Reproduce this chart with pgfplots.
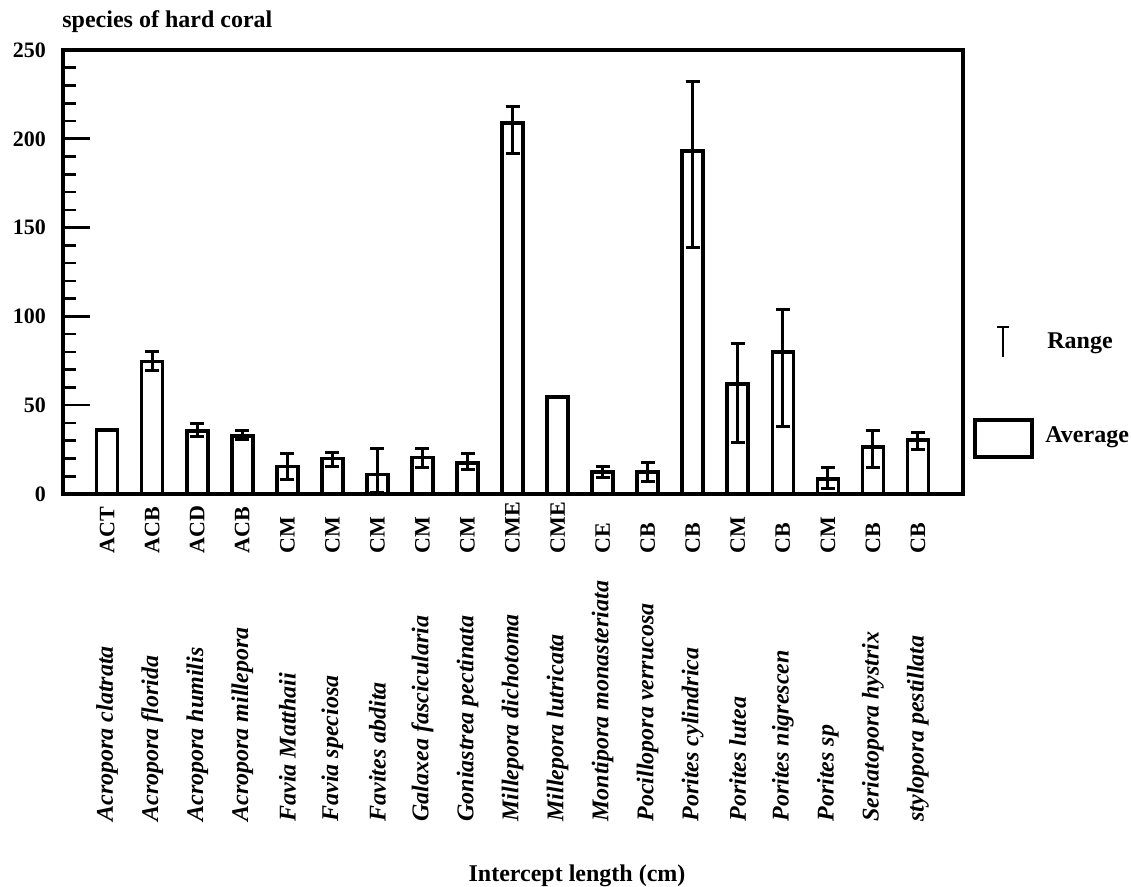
\documentclass[border=0pt]{standalone}
\usepackage{pgfplots}
\pgfplotsset{compat=1.18}
\usepackage{pgfplotstable}
\usepackage{fontspec}
\setmainfont{Liberation Serif}
\newcommand\codefont{\bfseries\fontsize{11}{13}\selectfont}
\newcommand\spfont{\bfseries\itshape\fontsize{12}{14}\selectfont}
\newcommand\lblfont{\bfseries\fontsize{12}{14}\selectfont}

\pgfplotstableread{
x y ep em
1 74.5 5.5 5
2 35.5 4 3
3 32.5 3.5 2
4 15.5 7.5 7.5
5 20 3.5 4.5
6 11 14.5 10
7 20.5 5 5.5
8 17.5 5.5 3.5
9 209 9 17
11 12.5 3 3
12 12.5 5.5 5.5
13 193 39 54
14 62 22.5 33
15 80 24 42
16 8.5 6.5 5.5
17 26.5 9.5 11.5
18 30.5 4 5.5
}\rangedata

\pgfplotstableread{
x y
0 36
10 54.5
}\plaindata

\begin{document}
\begin{tikzpicture}
\useasboundingbox (0pt,0pt) rectangle (565.5pt,443.5pt);
\begin{axis}[
  at={(31.5pt,196.5pt)}, anchor=south west,
  scale only axis, width=450pt, height=222pt,
  xmin=-0.98, xmax=19, ymin=0, ymax=250,
  xtick=\empty,
  ytick={0,50,100,150,200,250},
  minor y tick num=4,
  ytick pos=left,
  tick align=inside,
  major tick length=13.5pt,
  minor tick length=6.5pt,
  every tick/.style={black, line width=1.3pt},
  axis line style={line width=2.2pt},
  /pgf/number format/assume math mode=true,
  yticklabel style={font=\codefont, xshift=-5pt},
  clip=false,
  ybar,
]
\addplot[draw=black, fill=white, line width=1.8pt, bar width=10.5pt, bar shift=0pt,
  error bars/.cd, y dir=both, y explicit,
  error bar style={line width=1.5pt},
  error mark options={rotate=90, mark size=3.5pt, line width=1.5pt}]
  table[x=x, y=y, y error plus=ep, y error minus=em]{\rangedata};
\addplot[draw=black, fill=white, line width=1.8pt, bar width=10.5pt, bar shift=0pt]
  table[x=x, y=y]{\plaindata};

% functional group codes
\path (axis cs:0,0) ++(0pt,-30pt) node[rotate=90,anchor=west,inner sep=0pt,font=\codefont]{ACT};
\path (axis cs:1,0) ++(0pt,-30pt) node[rotate=90,anchor=west,inner sep=0pt,font=\codefont]{ACB};
\path (axis cs:2,0) ++(0pt,-30pt) node[rotate=90,anchor=west,inner sep=0pt,font=\codefont]{ACD};
\path (axis cs:3,0) ++(0pt,-30pt) node[rotate=90,anchor=west,inner sep=0pt,font=\codefont]{ACB};
\path (axis cs:4,0) ++(0pt,-30pt) node[rotate=90,anchor=west,inner sep=0pt,font=\codefont]{CM};
\path (axis cs:5,0) ++(0pt,-30pt) node[rotate=90,anchor=west,inner sep=0pt,font=\codefont]{CM};
\path (axis cs:6,0) ++(0pt,-30pt) node[rotate=90,anchor=west,inner sep=0pt,font=\codefont]{CM};
\path (axis cs:7,0) ++(0pt,-30pt) node[rotate=90,anchor=west,inner sep=0pt,font=\codefont]{CM};
\path (axis cs:8,0) ++(0pt,-30pt) node[rotate=90,anchor=west,inner sep=0pt,font=\codefont]{CM};
\path (axis cs:9,0) ++(0pt,-30pt) node[rotate=90,anchor=west,inner sep=0pt,font=\codefont]{CME};
\path (axis cs:10,0) ++(0pt,-30pt) node[rotate=90,anchor=west,inner sep=0pt,font=\codefont]{CME};
\path (axis cs:11,0) ++(0pt,-30pt) node[rotate=90,anchor=west,inner sep=0pt,font=\codefont]{CE};
\path (axis cs:12,0) ++(0pt,-30pt) node[rotate=90,anchor=west,inner sep=0pt,font=\codefont]{CB};
\path (axis cs:13,0) ++(0pt,-30pt) node[rotate=90,anchor=west,inner sep=0pt,font=\codefont]{CB};
\path (axis cs:14,0) ++(0pt,-30pt) node[rotate=90,anchor=west,inner sep=0pt,font=\codefont]{CM};
\path (axis cs:15,0) ++(0pt,-30pt) node[rotate=90,anchor=west,inner sep=0pt,font=\codefont]{CB};
\path (axis cs:16,0) ++(0pt,-30pt) node[rotate=90,anchor=west,inner sep=0pt,font=\codefont]{CM};
\path (axis cs:17,0) ++(0pt,-30pt) node[rotate=90,anchor=west,inner sep=0pt,font=\codefont]{CB};
\path (axis cs:18,0) ++(0pt,-30pt) node[rotate=90,anchor=west,inner sep=0pt,font=\codefont]{CB};

% species names
\path (axis cs:0,0) ++(0pt,-164pt) node[rotate=90,anchor=west,inner sep=0pt,font=\spfont]{Acropora clatrata};
\path (axis cs:1,0) ++(0pt,-164pt) node[rotate=90,anchor=west,inner sep=0pt,font=\spfont]{Acropora florida};
\path (axis cs:2,0) ++(0pt,-164pt) node[rotate=90,anchor=west,inner sep=0pt,font=\spfont]{Acropora humilis};
\path (axis cs:3,0) ++(0pt,-164pt) node[rotate=90,anchor=west,inner sep=0pt,font=\spfont]{Acropora millepora};
\path (axis cs:4,0) ++(0pt,-164pt) node[rotate=90,anchor=west,inner sep=0pt,font=\spfont]{Favia Matthaii};
\path (axis cs:5,0) ++(0pt,-164pt) node[rotate=90,anchor=west,inner sep=0pt,font=\spfont]{Favia speciosa};
\path (axis cs:6,0) ++(0pt,-164pt) node[rotate=90,anchor=west,inner sep=0pt,font=\spfont]{Favites abdita};
\path (axis cs:7,0) ++(0pt,-164pt) node[rotate=90,anchor=west,inner sep=0pt,font=\spfont]{Galaxea fascicularia};
\path (axis cs:8,0) ++(0pt,-164pt) node[rotate=90,anchor=west,inner sep=0pt,font=\spfont]{Goniastrea pectinata};
\path (axis cs:9,0) ++(0pt,-164pt) node[rotate=90,anchor=west,inner sep=0pt,font=\spfont]{Millepora dichotoma};
\path (axis cs:10,0) ++(0pt,-164pt) node[rotate=90,anchor=west,inner sep=0pt,font=\spfont]{Millepora lutricata};
\path (axis cs:11,0) ++(0pt,-164pt) node[rotate=90,anchor=west,inner sep=0pt,font=\spfont]{Montipora monasteriata};
\path (axis cs:12,0) ++(0pt,-164pt) node[rotate=90,anchor=west,inner sep=0pt,font=\spfont]{Pocillopora verrucosa};
\path (axis cs:13,0) ++(0pt,-164pt) node[rotate=90,anchor=west,inner sep=0pt,font=\spfont]{Porites cylindrica};
\path (axis cs:14,0) ++(0pt,-164pt) node[rotate=90,anchor=west,inner sep=0pt,font=\spfont]{Porites lutea};
\path (axis cs:15,0) ++(0pt,-164pt) node[rotate=90,anchor=west,inner sep=0pt,font=\spfont]{Porites nigrescen};
\path (axis cs:16,0) ++(0pt,-164pt) node[rotate=90,anchor=west,inner sep=0pt,font=\spfont]{Porites sp};
\path (axis cs:17,0) ++(0pt,-164pt) node[rotate=90,anchor=west,inner sep=0pt,font=\spfont]{Seriatopora hystrix};
\path (axis cs:18,0) ++(0pt,-164pt) node[rotate=90,anchor=west,inner sep=0pt,font=\spfont]{stylopora pestillata};
\end{axis}

% title and axis label
\node[anchor=base west, inner sep=0pt, font=\lblfont] at (31pt,429.5pt) {species of hard coral};
\node[anchor=base, inner sep=0pt, font=\lblfont] at (288.5pt,2.5pt) {Intercept length (cm)};

% legend
\draw[line width=1.3pt] (501.5pt,265pt) -- (501.5pt,280pt);
\draw[line width=1.3pt] (498.5pt,280pt) -- (504.5pt,280pt);
\node[anchor=west, inner sep=0pt, font=\lblfont] at (523.5pt,272pt) {Range};
\draw[line width=1.8pt, fill=white] (487.5pt,215pt) rectangle (516pt,233.5pt);
\node[anchor=west, inner sep=0pt, font=\lblfont] at (522.5pt,225pt) {Average};
\end{tikzpicture}
\end{document}
